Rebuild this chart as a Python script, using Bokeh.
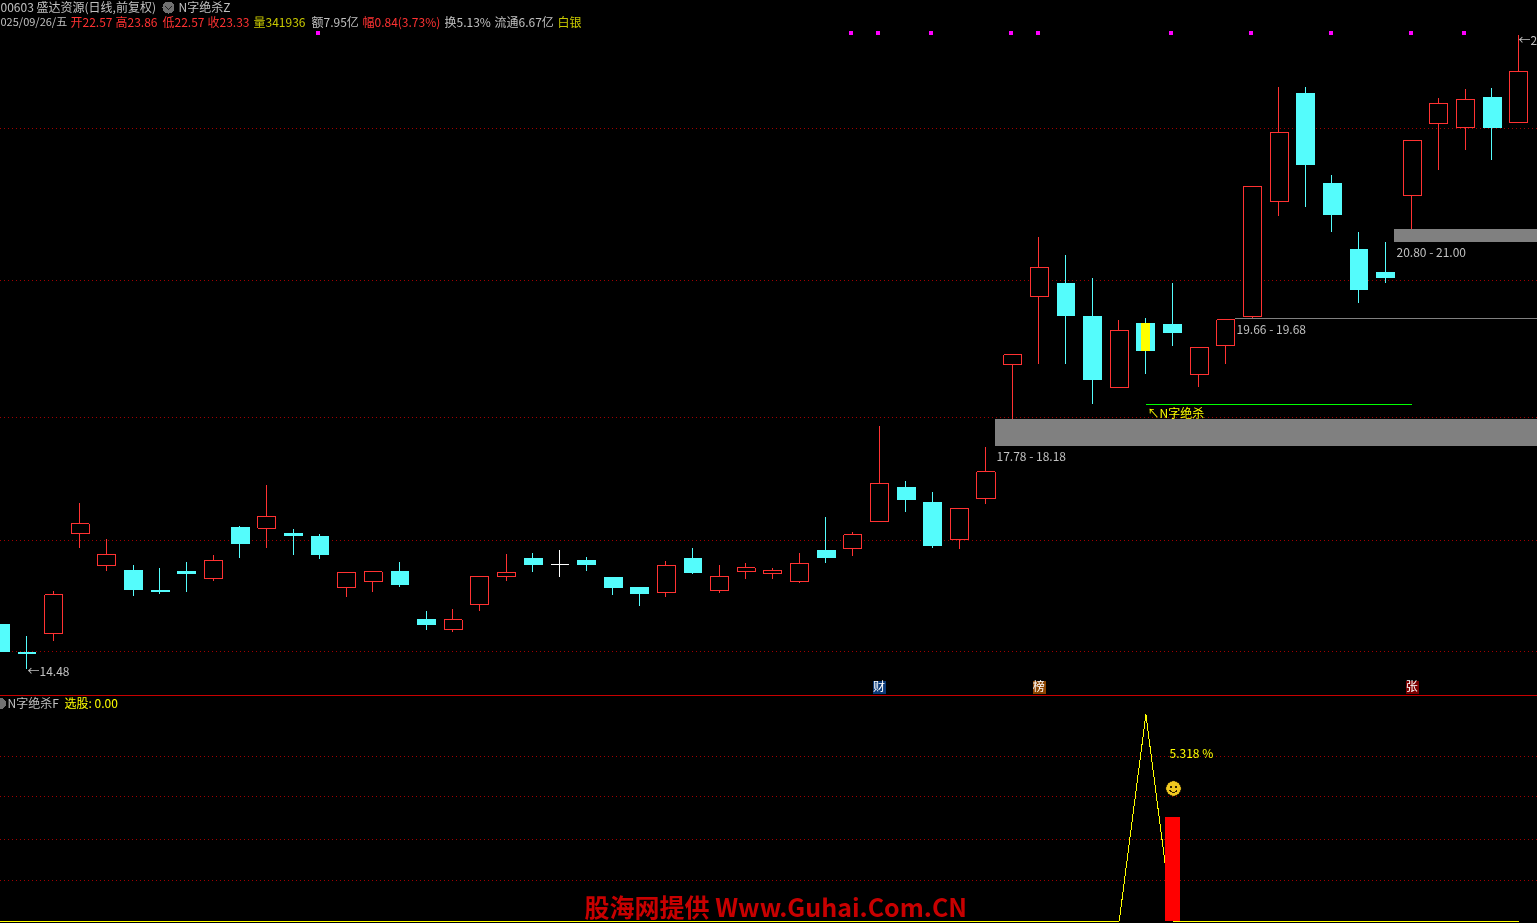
from bokeh.plotting import figure
from bokeh.models import Label, Range1d
from bokeh.embed import file_html
from bokeh.resources import INLINE

W, H = 1537, 923
FONT = "Noto Sans CJK SC"

# ---- daily candles (index 0 = left-most full candle) ----
first_index = -1
opens = [15.15,14.73,15.01,16.49,16.01,15.95,15.65,15.93,15.82,16.58,16.57,16.49,16.45,15.69,15.78,15.93,15.22,15.07,15.44,15.85,
         16.12,16.03,16.09,15.84,15.69,15.61,16.12,15.64,15.92,15.89,15.78,16.24,16.26,16.66,17.17,16.95,16.40,17.00,18.99,19.99,
         20.19,19.70,18.65,19.60,19.59,18.84,19.27,19.70,21.40,23.00,21.67,20.69,20.35,21.49,22.55,22.49,22.94,22.57]
highs = [15.15,14.97,15.64,16.94,16.40,16.03,15.98,16.06,16.17,16.60,17.20,16.55,16.48,15.91,15.92,16.06,15.34,15.37,15.85,16.18,
         16.20,16.24,16.14,15.84,15.69,16.08,16.27,16.02,16.05,15.98,16.20,16.74,16.51,18.08,17.26,17.11,16.86,17.77,19.13,20.87,
         20.61,20.27,19.64,19.67,20.19,19.24,19.65,21.62,23.09,23.09,21.79,20.95,20.80,22.30,22.93,23.06,23.08,23.86]
lows = [14.73,14.48,14.90,16.27,15.93,15.56,15.59,15.62,15.78,16.12,16.27,16.17,16.11,15.55,15.62,15.69,15.06,15.03,15.34,15.78,
        15.92,15.84,15.93,15.58,15.41,15.55,15.89,15.61,15.81,15.81,15.75,16.05,16.15,16.66,16.80,16.27,16.26,16.92,18.18,18.99,
        18.99,18.40,18.65,18.85,19.26,18.65,18.99,19.67,21.18,21.32,20.95,19.90,20.19,21.00,21.86,22.16,22.01,22.57]
closes = [14.73,14.70,15.58,16.63,16.18,15.65,15.62,15.89,16.09,16.33,16.74,16.45,16.17,15.91,15.92,15.72,15.13,15.21,15.85,15.91,
          16.02,16.03,16.03,15.68,15.59,16.01,15.90,15.86,15.98,15.94,16.04,16.12,16.47,17.23,16.99,16.30,16.86,17.40,19.13,20.42,
          19.70,18.76,19.49,19.19,19.45,19.24,19.65,21.62,22.42,21.94,21.20,20.09,20.27,22.30,22.85,22.91,22.49,23.33]
xs = list(range(first_index, first_index + len(opens)))

# ---- overlays ----
grid_prices = [22.473, 20.224, 18.198, 16.378, 14.736]
zone_low = [17.78, 19.66, 20.80]
zone_high = [18.18, 19.68, 21.00]
zone_start = [36, 45, 51]
signal_days = [11, 31, 32, 34, 37, 38, 43, 46, 49, 52, 54]
signal_level = 23.89
green_line_days = [42, 52]
green_line_price = 18.39
stick_day = 42
tag_days = [32, 38, 52]
tag_text = ["财", "榜", "张"]
tag_colors = ["#0a3a78", "#8a4400", "#7a0000"]

# ---- lower indicator pane ----
sub_grid = [8.46, 6.36, 4.205, 2.10]
sub_line_days = [-1, 41, 42, 43, 56]
sub_line_vals = [0, 0, 10.59, 0, 0]
sub_bar_day = 43
sub_bar_val = 5.318

# axis calibration
PX_PER_DAY = 26.64
X0_PX = 26.5
PX_PER_PRICE = 67.6
PRICE_AT_TOP = 23.86 + 34.7 / PX_PER_PRICE
SUB_PX = 19.5
SUB_BASE_PX = 920.5

def px_x(v): return (v - X0_PX) / PX_PER_DAY
def px_y(v): return PRICE_AT_TOP - v / PX_PER_PRICE

# the figure hangs one pixel over each page edge
p = figure(width=W + 2, height=H + 2, output_backend="svg", toolbar_location=None,
           x_range=Range1d(px_x(-1), px_x(W + 1)),
           y_range=Range1d(px_y(H + 1), px_y(-1)),
           x_axis_location=None, y_axis_location=None,
           background_fill_color="#000000", border_fill_color="#000000",
           outline_line_color=None, min_border=0,
           styles={"position": "fixed", "left": "-1px", "top": "-1px",
                   "shape-rendering": "crispEdges"})
p.grid.visible = False
p.extra_y_ranges["sub"] = Range1d(-(H + 1 - SUB_BASE_PX) / SUB_PX, (SUB_BASE_PX + 1) / SUB_PX)

def label(x, y, text, color="#c0c0c0", size=12, style="normal", align="left"):
    p.add_layout(Label(x=x + 1, y=H + 1 - y + 1.5, x_units="screen", y_units="screen", text=text,
                       text_color=color, text_font=FONT, text_font_size=f"{size}px",
                       text_font_style=style, text_baseline="middle", text_align=align))

x_l, x_r = px_x(-1), px_x(W + 1)
half_px = 0.5 / PX_PER_PRICE
half_sub = 0.5 / SUB_PX

# watermark
label(584, 906.5, "股海网提供 Www.Guhai.Com.CN", "#c80000", 25, "bold")

# grid lines
for g in grid_prices:
    p.line([x_l, x_r], [g, g], line_color="#a00000", line_width=1, line_dash="1 3")
for g in sub_grid:
    p.line([x_l, x_r], [g, g], y_range_name="sub", line_color="#a00000", line_width=1, line_dash="1 3")

# separator between panes
sep = px_y(694.5)
p.quad(left=x_l, right=x_r, bottom=sep - half_px, top=sep + half_px, fill_color="#c80000", line_color=None)

# support/resistance zones
for lo, hi, s in zip(zone_low, zone_high, zone_start):
    p.quad(left=s + 0.33, right=x_r, bottom=lo, top=hi, fill_color="#808080", line_color=None)

# candles
RED, CYAN, WHITE = "#ff3232", "#54fcfc", "#ffffff"
for x, o, h, l, c in zip(xs, opens, highs, lows, closes):
    col = RED if c > o else CYAN if c < o else WHITE
    p.segment(x - 0.015, l, x - 0.015, h, line_color=col, line_width=1)
    if c > o:
        p.vbar(x=x, width=0.68, bottom=o, top=c, fill_color="#000000", line_color=col, line_width=1)
    elif c < o:
        p.vbar(x=x, width=0.71, bottom=c, top=o, fill_color=col, line_color=None)
    else:
        p.segment(x - 0.33, c, x + 0.33, c, line_color=col, line_width=1)

# yellow highlighted stick
k = stick_day - first_index
p.vbar(x=stick_day, width=0.34, bottom=closes[k], top=opens[k], fill_color="#ffff00", line_color=None)

# signal squares
p.scatter(x=[d - 0.06 for d in signal_days], y=[signal_level] * len(signal_days), marker="square", size=4,
          fill_color="#ff00ff", line_color=None)

# green line and its text
p.quad(left=green_line_days[0], right=green_line_days[1], bottom=green_line_price - half_px,
       top=green_line_price + half_px, fill_color="#00ff00", line_color=None)
label(1147, 413, "↖N字绝杀", "#ffff00", 12)

# zone captions
label(996, 456, "17.78 - 18.18")
label(1236, 329, "19.66 - 19.68")
label(1396, 252, "20.80 - 21.00")
label(27, 671, "←14.48")
label(1518, 40, "←2")

# tags above separator
tag_y = px_y(686.5)
p.rect(x=tag_days, y=[tag_y] * 3, width=13, height=13, width_units="screen", height_units="screen",
       fill_color=tag_colors, line_color=None)
for d, t in zip(tag_days, tag_text):
    label(X0_PX + d * PX_PER_DAY - 0.5, 686.5, t, "#ffffff", 12, align="center")

# lower pane
p.line(sub_line_days[1:3], sub_line_vals[1:3], y_range_name="sub", line_color="#ffff00", line_width=1)
p.line(sub_line_days[2:4], sub_line_vals[2:4], y_range_name="sub", line_color="#ffff00", line_width=1)
p.quad(left=x_l, right=sub_line_days[1], bottom=-half_sub, top=half_sub, y_range_name="sub",
       fill_color="#ffff00", line_color=None)
p.quad(left=sub_bar_day, right=sub_line_days[4], bottom=-half_sub, top=half_sub, y_range_name="sub",
       fill_color="#ffff00", line_color=None)
p.vbar(x=sub_bar_day, width=0.563, bottom=0, top=sub_bar_val, y_range_name="sub",
       fill_color="#ff0000", line_color=None)
label(1169, 753, "5.318 %", "#ffff00", 12)

# smiley
sx, sy = px_x(1173), px_y(788)
p.scatter([sx], [sy], marker="circle", size=14.5, fill_color="#f0c820", line_color="#a08010", line_width=0.5)
p.scatter([px_x(1170.3), px_x(1175.7)], [px_y(786), px_y(786)], marker="square", size=2, fill_color="#302000", line_color=None)
p.arc([sx], [sy], radius=4, radius_units="screen", start_angle=3.6, end_angle=5.8, direction="anticlock",
      line_color="#302000", line_width=1)

# header icons
p.scatter([px_x(168)], [px_y(7)], marker="circle", size=12, fill_color="#707070", line_color=None)
p.line([px_x(165), px_x(168), px_x(171)], [px_y(6), px_y(9), px_y(6)], line_color="#202020", line_width=1)
p.scatter([px_x(0)], [px_y(703)], marker="circle", size=11, fill_color="#707070", line_color=None)

# header text
GRAY, TR, TY = "#c0c0c0", "#ff3232", "#c8c800"
label(0, 7, "00603 盛达资源(日线,前复权)", GRAY)
label(178, 7, "N字绝杀Z", GRAY)
label(0, 22, "025/09/26/五", GRAY, 11)
label(70, 22, "开22.57", TR)
label(115, 22, "高23.86", TR)
label(162, 22, "低22.57", TR)
label(207, 22, "收23.33", TR)
label(253, 22, "量341936", TY)
label(311, 22, "额7.95亿", GRAY)
label(362, 22, "幅0.84(3.73%)", TR)
label(444, 22, "换5.13%", GRAY)
label(494, 22, "流通6.67亿", GRAY)
label(557, 22, "白银", TY)
label(7, 703, "N字绝杀F", GRAY)
label(64, 703, "选股: 0.00", "#ffff00")

open("out.html", "w").write(file_html(p, INLINE))
